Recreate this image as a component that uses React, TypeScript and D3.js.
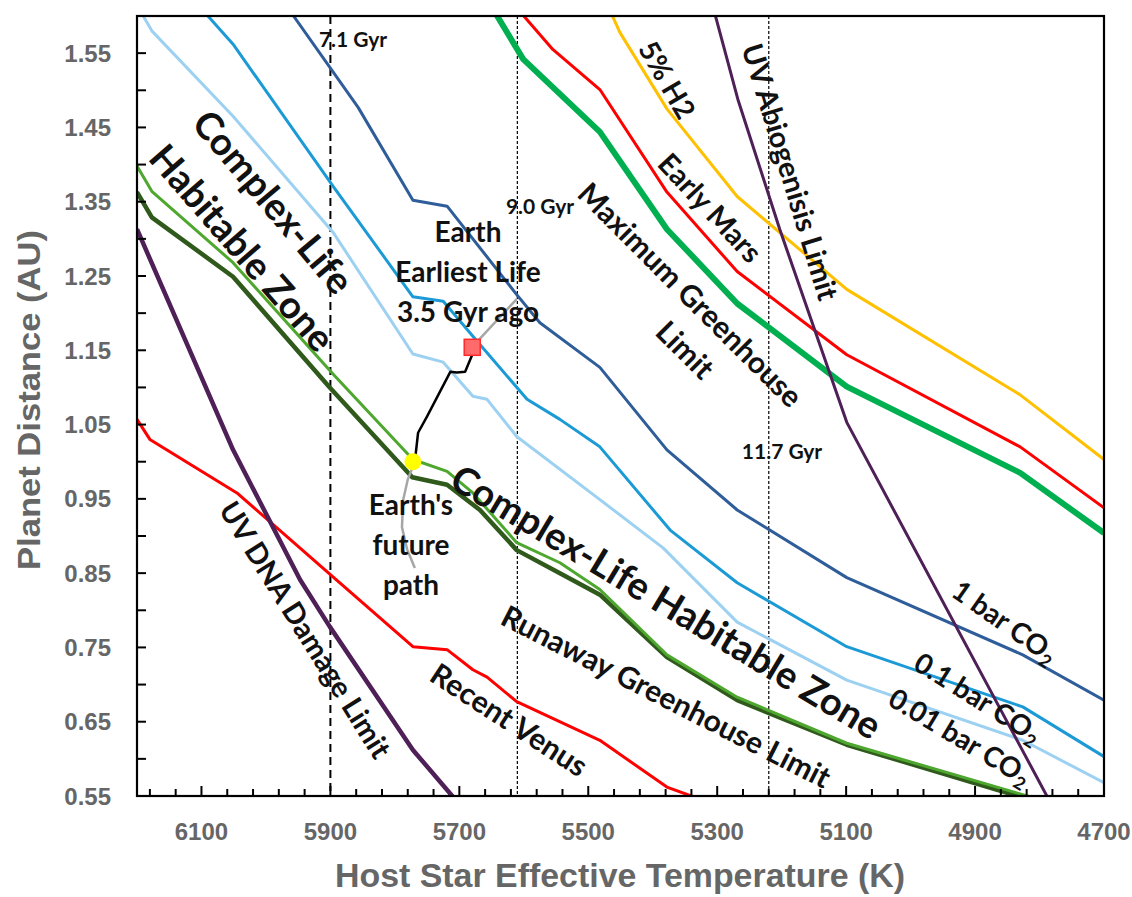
import React, { useEffect } from 'react';
import * as d3 from 'd3';

// ==================== DATA ====================
// [temperature K, distance AU]
const co2OneBar = [[5958, 1.601], [5857, 1.477], [5772, 1.352], [5719, 1.344], [5611, 1.225], [5575, 1.187], [5482, 1.127], [5378, 1.016], [5269, 0.935], [5099, 0.844], [4826, 0.740], [4700, 0.679]];
const co2TenthBar = [[6091, 1.601], [6051, 1.562], [5896, 1.371], [5772, 1.222], [5725, 1.216], [5679, 1.169], [5595, 1.084], [5544, 1.057], [5482, 1.020], [5373, 0.908], [5269, 0.837], [5099, 0.751], [4826, 0.670], [4700, 0.603]];
const co2HundredthBar = [[6191, 1.601], [6177, 1.580], [6051, 1.465], [5896, 1.309], [5772, 1.145], [5725, 1.134], [5679, 1.088], [5657, 1.084], [5611, 1.034], [5482, 0.949], [5384, 0.884], [5269, 0.784], [5099, 0.706], [4826, 0.625], [4700, 0.568]];
const chzOuter = [[6200, 1.398], [6177, 1.364], [6051, 1.268], [5896, 1.118], [5772, 1.003], [5719, 0.987], [5679, 0.958], [5611, 0.891], [5544, 0.864], [5482, 0.828], [5378, 0.740], [5269, 0.683], [5099, 0.621], [4815, 0.549]];
const chzInner = [[6200, 1.363], [6177, 1.329], [6051, 1.249], [5901, 1.100], [5773, 0.979], [5719, 0.969], [5668, 0.935], [5611, 0.881], [5544, 0.850], [5482, 0.821], [5378, 0.737], [5269, 0.679], [5099, 0.619], [4830, 0.549]];
const maxGreenhouse = [[5642, 1.601], [5601, 1.542], [5482, 1.444], [5378, 1.313], [5269, 1.213], [5099, 1.101], [4830, 0.985], [4700, 0.904]];
const earlyMars = [[5601, 1.601], [5555, 1.555], [5482, 1.501], [5378, 1.363], [5269, 1.256], [5099, 1.144], [4830, 1.020], [4700, 0.938]];
const h2FivePct = [[5463, 1.601], [5451, 1.578], [5378, 1.475], [5269, 1.357], [5099, 1.232], [4830, 1.090], [4700, 1.003]];
const uvAbiogenesis = [[5303, 1.601], [5268, 1.488], [5203, 1.313], [5099, 1.053], [4788, 0.549]];
const uvDnaDamage = [[6200, 1.313], [6051, 1.016], [5947, 0.841], [5901, 0.778], [5772, 0.612], [5710, 0.549]];
const recentVenus = [[6200, 1.057], [6180, 1.030], [6045, 0.958], [5896, 0.845], [5772, 0.751], [5719, 0.747], [5679, 0.720], [5657, 0.710], [5611, 0.677], [5482, 0.625], [5378, 0.562], [5337, 0.549]];
const earthPast = [[5769, 1.000], [5764, 1.039], [5750, 1.061], [5714, 1.121], [5704, 1.120], [5691, 1.121], [5680, 1.144], [5680, 1.154]];
const earthPastFaint = [[5680, 1.154], [5672, 1.162], [5611, 1.219]];
const earthFuture = [[5769, 1.000], [5780, 0.976], [5787, 0.949], [5789, 0.912], [5781, 0.882], [5769, 0.857]];
const earthNow = [5772, 1.0];
const earthEarliestLife = [5680, 1.154];

const ageLines = [5900, 5610, 5220];
const ageLabels = ['7.1 Gyr', '9.0 Gyr', '11.7 Gyr'];

const xTickValues = [6100, 5900, 5700, 5500, 5300, 5100, 4900, 4700];
const yTickValues = [0.55, 0.65, 0.75, 0.85, 0.95, 1.05, 1.15, 1.25, 1.35, 1.45, 1.55];

// ==================== LAYOUT ====================
const W = 1132, H = 897;
const M = { left: 137, right: 1104, top: 16, bottom: 796 };

const x = d3.scaleLinear().domain([6200, 4700]).range([M.left, M.right]);
const y = d3.scaleLinear().domain([0.55, 1.6]).range([M.bottom, M.top]);
const line = d3.line<number[]>().x(d => x(d[0])).y(d => y(d[1]));

const SERIES = [
  { data: co2HundredthBar, color: '#9DD1F1', width: 3 },
  { data: co2TenthBar, color: '#1B9AD6', width: 3 },
  { data: co2OneBar, color: '#2F5D99', width: 3 },
  { data: h2FivePct, color: '#FFC000', width: 3 },
  { data: earlyMars, color: '#FF0000', width: 3 },
  { data: maxGreenhouse, color: '#00B050', width: 6 },
  { data: recentVenus, color: '#FF0000', width: 3 },
  { data: chzInner, color: '#2F5A1C', width: 4.5 },
  { data: chzOuter, color: '#4EA72E', width: 3 },
  { data: uvAbiogenesis, color: '#4F2057', width: 3 },
  { data: uvDnaDamage, color: '#4F2057', width: 4.5 },
];

const FONT = "Lato, 'Open Sans', sans-serif";
const AXIS_FONT = "'Liberation Sans', Arial, sans-serif";

// rotated annotation labels
const LABELS = [
  { text: 'Complex-Life', cx: 273, cy: 202, angle: 50, size: 38 },
  { text: 'Habitable Zone', cx: 242, cy: 248, angle: 49, size: 38 },
  { text: 'Complex-Life Habitable Zone', cx: 666, cy: 602, angle: 31, size: 38 },
  { text: 'Runaway Greenhouse Limit', cx: 666, cy: 697, angle: 27, size: 30 },
  { text: 'Recent Venus', cx: 509, cy: 720, angle: 33, size: 30 },
  { text: 'UV DNA Damage Limit', cx: 305, cy: 630, angle: 58, size: 29 },
  { text: 'Maximum Greenhouse', cx: 690, cy: 295, angle: 45, size: 30 },
  { text: 'Limit', cx: 685, cy: 350, angle: 45, size: 30 },
  { text: 'Early Mars', cx: 710, cy: 208, angle: 47, size: 29 },
  { text: '5% H2', cx: 667, cy: 80, angle: 60, size: 28 },
  { text: 'UV Abiogenisis Limit', cx: 790, cy: 172, angle: 73, size: 29 },
];

const CO2_LABELS = [
  { text: '1 bar CO', cx: 1005, cy: 622, angle: 35, size: 28 },
  { text: '0.1 bar CO', cx: 978, cy: 698, angle: 32, size: 28 },
  { text: '0.01 bar CO', cx: 960, cy: 737, angle: 31, size: 28 },
];

const App = () => {
  useEffect(() => {
    document.body.style.margin = '0';
  }, []);

  const xMinor = d3.range(4740, 6200, 40);
  const yMinor = d3.range(0.6, 1.6, 0.1);

  return (
    <svg width={W} height={H} style={{ display: 'block', background: '#fff' }}>
      <defs>
        <clipPath id="plot">
          <rect x={M.left} y={M.top} width={M.right - M.left} height={M.bottom - M.top} />
        </clipPath>
      </defs>

      {/* age markers */}
      {ageLines.map((t, i) => (
        <line key={t} x1={x(t)} x2={x(t)} y1={M.top} y2={M.bottom} stroke="#000"
          strokeWidth={i === 0 ? 2 : 1.2} strokeDasharray={i === 0 ? '8 5' : '3 2'} />
      ))}

      <g clipPath="url(#plot)">
        {SERIES.map((s, i) => (
          <path key={i} d={line(s.data) || ''} fill="none" stroke={s.color} strokeWidth={s.width}
            strokeLinejoin="round" />
        ))}
        <path d={line(earthPastFaint) || ''} fill="none" stroke="#A6A6A6" strokeWidth={2.5} />
        <path d={line(earthFuture) || ''} fill="none" stroke="#A6A6A6" strokeWidth={2.5} />
        <path d={line(earthPast) || ''} fill="none" stroke="#000" strokeWidth={2.5} strokeLinejoin="round" />
      </g>

      <rect x={x(earthEarliestLife[0]) - 8} y={y(earthEarliestLife[1]) - 8} width={16} height={16}
        fill="#FF6B6B" stroke="#FF2A2A" strokeWidth={1.5} />
      <circle cx={x(earthNow[0])} cy={y(earthNow[1])} r={8.5} fill="#FFFF00" />

      {/* frame */}
      <rect x={M.left} y={M.top} width={M.right - M.left} height={M.bottom - M.top} fill="none" stroke="#000" strokeWidth={2.2} />

      {/* ticks */}
      {xMinor.map(t => {
        const major = xTickValues.some(v => Math.abs(v - t) < 1);
        return <line key={'xt' + t} x1={x(t)} x2={x(t)} y1={M.bottom} y2={M.bottom - (major ? 10 : 7)} stroke="#000" strokeWidth={2} />;
      })}
      {yTickValues.concat(yMinor).map(v => (
        <line key={'yt' + v} x1={M.left} x2={M.left + 9} y1={y(v)} y2={y(v)} stroke="#000" strokeWidth={2} />
      ))}

      {xTickValues.map(t => (
        <text key={'xl' + t} x={x(t)} y={840} textAnchor="middle" fontFamily={AXIS_FONT} fontWeight={700}
          fontSize={24} fill="#666">{t}</text>
      ))}
      {yTickValues.map(v => (
        <text key={'yl' + v} x={111} y={y(v) + 8.5} textAnchor="end" fontFamily={AXIS_FONT} fontWeight={700}
          fontSize={24} fill="#666">{v.toFixed(2)}</text>
      ))}

      <text x={620} y={887} textAnchor="middle" fontFamily={AXIS_FONT} fontWeight={700} fontSize={33}
        fill="#666" textLength={570} lengthAdjust="spacingAndGlyphs">Host Star Effective Temperature (K)</text>
      <text transform="translate(40,400) rotate(-90)" textAnchor="middle" fontFamily={AXIS_FONT} fontWeight={700}
        fontSize={31} fill="#666" textLength={340} lengthAdjust="spacingAndGlyphs">Planet Distance (AU)</text>

      {/* age labels */}
      {ageLabels.map((l, i) => (
        <text key={l} x={[353, 540, 782][i]} y={[47, 214, 459][i]} textAnchor="middle" fontFamily={FONT}
          fontWeight={700} fontSize={21} fill="#111">{l}</text>
      ))}

      {/* Earth annotations */}
      {['Earth', 'Earliest Life', '3.5 Gyr ago'].map((l, i) => (
        <text key={l} x={468} y={242 + i * 40} textAnchor="middle" fontFamily={FONT} fontWeight={700}
          fontSize={28} fill="#111">{l}</text>
      ))}
      {["Earth's", 'future', 'path'].map((l, i) => (
        <text key={l} x={411} y={515 + i * 40} textAnchor="middle" fontFamily={FONT} fontWeight={700}
          fontSize={28} fill="#111">{l}</text>
      ))}

      {LABELS.map(l => (
        <text key={l.text} transform={`translate(${l.cx},${l.cy}) rotate(${l.angle})`} textAnchor="middle"
          dy="0.35em" fontFamily={FONT} fontWeight={700} fontSize={l.size} fill="#111">{l.text}</text>
      ))}
      {CO2_LABELS.map(l => (
        <text key={l.text} transform={`translate(${l.cx},${l.cy}) rotate(${l.angle})`} textAnchor="middle"
          dy="0.35em" fontFamily={FONT} fontWeight={700} fontSize={l.size} fill="#111">
          {l.text}<tspan fontSize={l.size * 0.65} dy="0.3em">2</tspan>
        </text>
      ))}
    </svg>
  );
};

export default App;
